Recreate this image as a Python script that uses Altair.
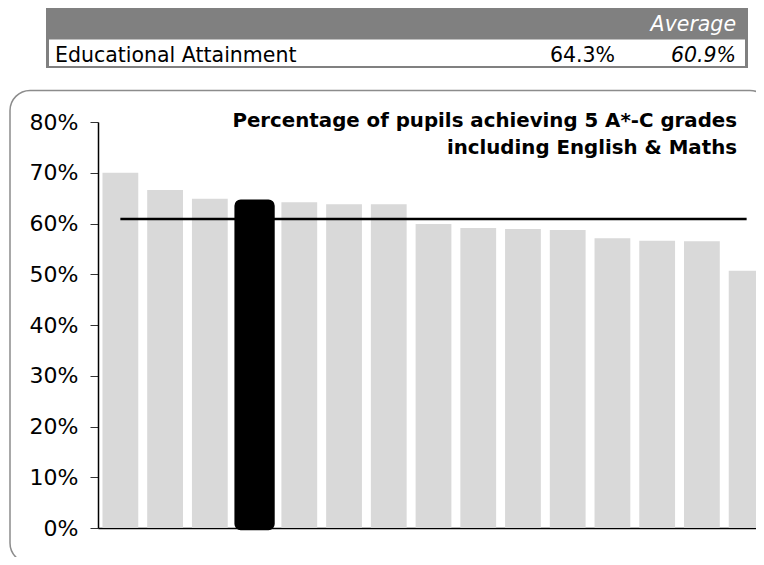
import altair as alt
import pandas as pd

# ---- data ----
areas = ["Area A", "Area B", "Area C", "Area D", "Area E", "Area F", "Area G", "Area H",
         "Area I", "Area J", "Area K", "Area L", "Area M", "Area N", "Area O"]
pct = [70.0, 66.6, 64.9, 64.3, 64.2, 63.8, 63.8, 59.9, 59.1, 58.9, 58.7, 57.1, 56.6, 56.5, 50.7]
highlight = "Area D"
average = 60.9

indicator = "Educational Attainment"
value_text = "64.3%"
avg_label = "Average"
avg_text = "60.9%"
title_lines = ["Percentage of pupils achieving 5 A*-C grades", "including English & Maths"]
tick_values = [0, 0.1, 0.2, 0.3, 0.4, 0.5, 0.6, 0.7, 0.8]

FONT = "DejaVu Sans"

df = pd.DataFrame({
    "area": areas,
    "pct": [p / 100 for p in pct],
    "avg": [average / 100] * len(areas),
    "hl": [a == highlight for a in areas],
})
one = pd.DataFrame({"k": [0]})

x = alt.X("area:N", sort=areas,
          scale=alt.Scale(range=[0, 671], paddingInner=0.2, paddingOuter=0.1),
          axis=alt.Axis(labels=False, ticks=False, title=None, domainColor="black",
                        domainWidth=1.5))
y = alt.Y("pct:Q", scale=alt.Scale(domain=[0, 0.8], nice=False),
          axis=alt.Axis(values=tick_values, format=".0%", title=None, grid=False,
                        labelFont=FONT, labelFontSize=22, labelColor="black",
                        tickSize=8, tickColor="#333333", tickWidth=1,
                        domainColor="black", domainWidth=1.5, labelPadding=12))

base = alt.Chart(df)

gray_bars = base.transform_filter("!datum.hl").mark_bar(color="#d9d9d9").encode(x=x, y=y)
hl_bar = base.transform_filter("datum.hl").mark_bar(
    color="black", stroke="black", strokeWidth=4.5, cornerRadius=4).encode(x=x, y=y)
avg_line = base.mark_line(color="black", strokeWidth=2.5).encode(
    x=x, y=alt.Y("avg:Q"))

# decorative rounded frame around the chart
frame = alt.Chart(one).mark_rect(fillOpacity=0, stroke="#8c8c8c", strokeWidth=1.5,
                                 cornerRadius=20).encode(
    x=alt.value(-88), x2=alt.value(672), y=alt.value(-31.5), y2=alt.value(441))

# header table
hdr_gray = alt.Chart(one).mark_rect(color="#808080").encode(
    x=alt.value(-52), x2=alt.value(650), y=alt.value(-115), y2=alt.value(-54))
hdr_white = alt.Chart(one).mark_rect(color="white").encode(
    x=alt.value(-49), x2=alt.value(647), y=alt.value(-82.5), y2=alt.value(-56))
hdr_avg = alt.Chart(one).mark_text(text=avg_label, font=FONT, fontSize=20.5, fontStyle="italic",
                                   color="white", align="right", baseline="alphabetic").encode(
    x=alt.value(638), y=alt.value(-91.5))
hdr_name = alt.Chart(one).mark_text(text=indicator, font=FONT, fontSize=20.5, color="black",
                                    align="left", baseline="alphabetic").encode(
    x=alt.value(-43), y=alt.value(-60))
hdr_val = alt.Chart(one).mark_text(text=value_text, font=FONT, fontSize=20.5, color="black",
                                   align="right", baseline="alphabetic").encode(
    x=alt.value(517), y=alt.value(-60))
hdr_avgval = alt.Chart(one).mark_text(text=avg_text, font=FONT, fontSize=20.5, fontStyle="italic",
                                      color="black", align="right", baseline="alphabetic").encode(
    x=alt.value(638), y=alt.value(-60))

title = alt.Chart(one).mark_text(text=title_lines, font=FONT, fontSize=19.8, fontWeight="bold",
                                 color="black", align="right", baseline="alphabetic",
                                 lineHeight=26.5).encode(
    x=alt.value(639), y=alt.value(5))

chart = alt.layer(
    frame, hdr_gray, hdr_white, hdr_avg, hdr_name, hdr_val, hdr_avgval,
    gray_bars, avg_line, hl_bar, title
).properties(
    width=658, height=406,
    padding={"left": 90, "top": 114, "right": 0, "bottom": 29},
    autosize=alt.AutoSizeParams(type="none"),
    background="white",
).configure_view(stroke=None)

chart.save("out.html", embed_options={"renderer": "svg", "actions": False})
